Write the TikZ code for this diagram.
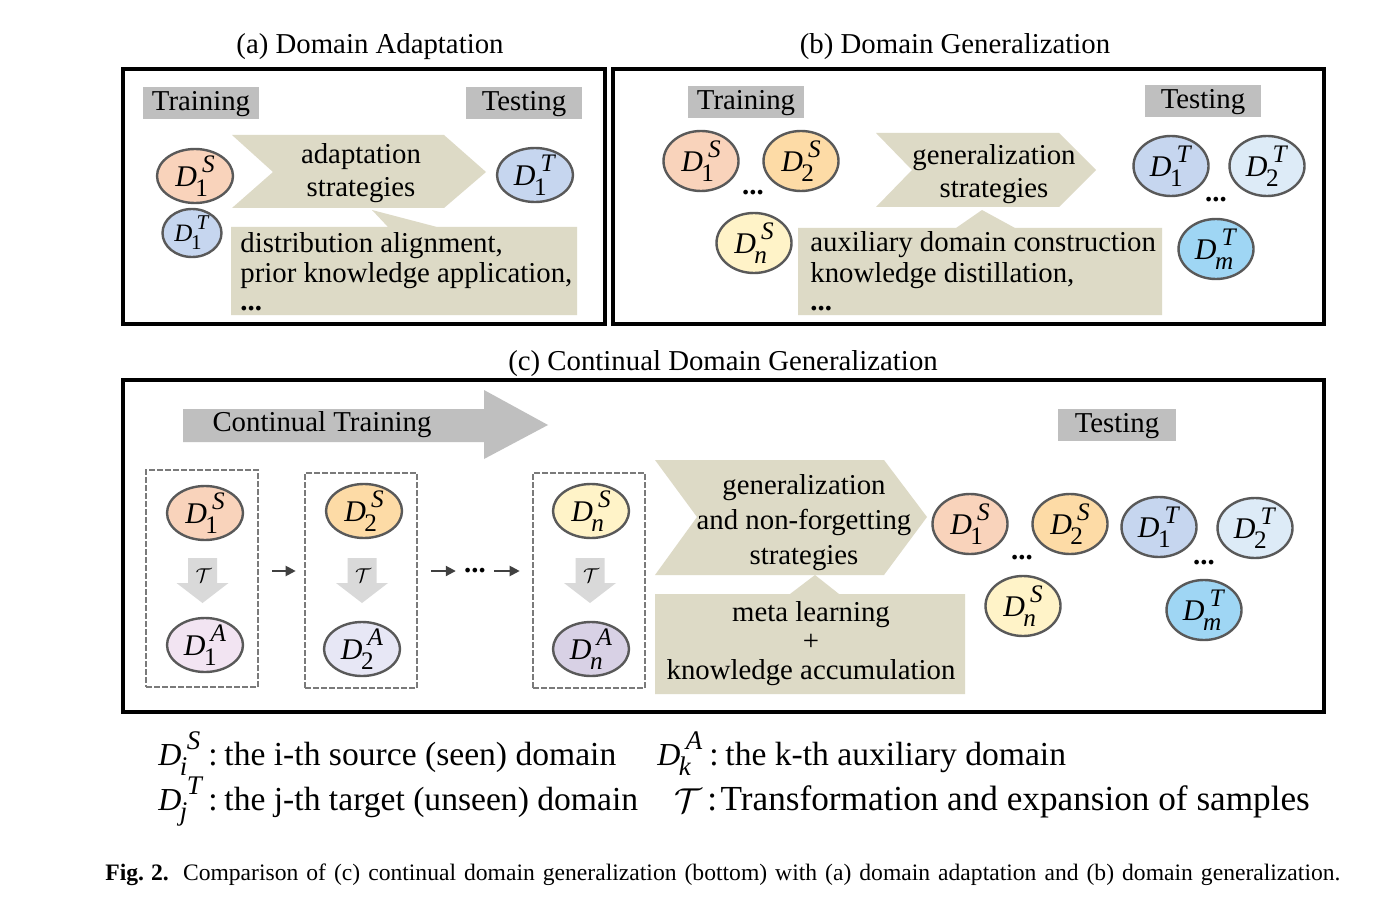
\RequirePackage{fix-cm}
\documentclass[tikz,border=0pt]{standalone}
\usepackage{fontspec}
\setmainfont{Liberation Serif}
\usepackage{graphicx}
\usetikzlibrary{shapes.geometric,arrows.meta}
\definecolor{lblgray}{HTML}{BFBFBF}
\definecolor{tanbg}{HTML}{DDDAC6}
\definecolor{circ}{HTML}{595959}
\definecolor{dashg}{HTML}{7A7A7A}
\definecolor{arrg}{HTML}{D9D9D9}
\definecolor{darkarr}{HTML}{404040}
\definecolor{cSa}{HTML}{F9D3BB}
\definecolor{cSb}{HTML}{FDDBA6}
\definecolor{cSn}{HTML}{FFF3C8}
\definecolor{cTa}{HTML}{C6D6EF}
\definecolor{cTb}{HTML}{DDEBF7}
\definecolor{cTm}{HTML}{9FD6F4}
\definecolor{cAa}{HTML}{F2E4F2}
\definecolor{cAb}{HTML}{E7E7F5}
\definecolor{cAn}{HTML}{D8D1E5}
\newcommand\mainsz{\fontsize{14.4}{16.5}\selectfont}
\newcommand\Dsym[2]{\textit{D}\ooalign{\raisebox{0.47em}{\kern0.17em\scalebox{0.84}{\textit{#1}}}\cr\raisebox{-0.34em}{\kern-0.05em\scalebox{0.84}{#2}}\cr}}
\begin{document}
\begin{tikzpicture}[x=0.5pt,y=-0.5pt,
  panel/.style={draw=black,line width=1.7pt},
  lbl/.style={fill=lblgray,minimum width=58pt,minimum height=16pt,inner sep=0pt,font=\mainsz,text height=10pt,text depth=3pt},
  txt/.style={font=\mainsz,inner sep=0pt},
  dom/.style={ellipse,draw=circ,line width=1.2pt,inner sep=-4pt,font=\fontsize{15}{15}\selectfont},
  domA/.style={dom,minimum width=38pt,minimum height=27pt},
  domB/.style={dom,minimum width=37.5pt,minimum height=30pt},
  dbox/.style={draw=dashg,line width=1.3pt,dash pattern=on 3pt off 1pt,minimum width=56pt,inner sep=0pt},
  sarr/.style={draw=darkarr,line width=1pt,-{Triangle[length=5pt,width=5pt]}},
  bigdots/.style={font=\mainsz\bfseries,inner sep=0pt},
  legt/.style={font=\fontsize{16.8}{20}\selectfont,inner sep=0pt,anchor=base west},
  legd/.style={font=\fontsize{16}{18}\selectfont,inner sep=0pt,anchor=base west}
]
\useasboundingbox (0,0) rectangle (1375,909);
\fill[white] (0,0) rectangle (1375,909);

% ---------- titles
\node[txt,anchor=base] (ta) at (370,54) {(a) Domain Adaptation};
\node[txt,anchor=base] (tb) at (955,54) {(b) Domain Generalization};
\node[txt,anchor=base] (tc) at (723,370) {(c) Continual Domain Generalization};

% ---------- panel (a)
\draw[panel] (123,69) rectangle (605,324);
\node[lbl] (atrain) at (201,103.5) {Training};
\node[lbl] (atest) at (524,103.5) {Testing};
\fill[tanbg] (232,135) -- (444,135) -- (486,172) -- (444,208) -- (232,208) -- (273,172) -- cycle;
\node[txt,align=center] (astrat) at (361,173) {adaptation\\strategies};
\fill[tanbg] (231,227) -- (388,227) -- (372,210) -- (437,227) -- (577,227) -- (577,315) -- (231,315) -- cycle;
\node[txt,anchor=base west] (al1) at (240,252) {distribution alignment,};
\node[txt,anchor=base west] (al2) at (240,283) {prior knowledge application,};
\node[txt,anchor=base west] (al3) at (240,310) {\textbf{...}};
\node[domA,fill=cSa] (aS1) at (195,176) {\Dsym{S}{1}};
\node[domA,fill=cTa] (aT1) at (535,175) {\Dsym{T}{1}};
\node[dom,fill=cTa,minimum width=29.5pt,minimum height=24pt,font=\fontsize{12.5}{13}\selectfont] (aT1s) at (192,233) {\Dsym{T}{1}};

% ---------- panel (b)
\draw[panel] (613,69) rectangle (1324,324);
\node[lbl] (btrain) at (746,102.5) {Training};
\node[lbl] (btest) at (1203,101.5) {Testing};
\fill[tanbg] (876,133) -- (1059,133) -- (1096,170) -- (1059,207) -- (876,207) -- (912,170) -- cycle;
\node[txt,align=center] (bstrat) at (994,174) {generalization\\strategies};
\fill[tanbg] (798,228) -- (956,228) -- (982,210) -- (1015,228) -- (1162,228) -- (1162,315) -- (798,315) -- cycle;
\node[txt,anchor=base west] (bl1) at (810,251) {auxiliary domain construction};
\node[txt,anchor=base west] (bl2) at (810,282) {knowledge distillation,};
\node[txt,anchor=base west] (bl3) at (810,310) {\textbf{...}};
\node[domB,fill=cSa] (bS1) at (701,161) {\Dsym{S}{1}};
\node[domB,fill=cSb] (bS2) at (801,161) {\Dsym{S}{2}};
\node[bigdots] (bdS) at (753,193) {...};
\node[domB,fill=cSn] (bSn) at (754,243) {\Dsym{S}{\textit{n}}};
\node[domB,fill=cTa] (bT1) at (1171,166) {\Dsym{T}{1}};
\node[domB,fill=cTb] (bT2) at (1267,166) {\Dsym{T}{2}};
\node[bigdots] (bdT) at (1216,200) {...};
\node[domB,fill=cTm] (bTm) at (1216,249) {\Dsym{T}{\textit{m}}};

% ---------- panel (c)
\draw[panel] (123,380) rectangle (1324,712);
\fill[lblgray] (183,409) -- (484,409) -- (484,390) -- (548,425) -- (484,459) -- (484,442) -- (183,442) -- cycle;
\node[txt] (ctrain) at (322,425) {Continual Training};
\node[lbl,minimum width=59pt] (ctest) at (1117,425) {Testing};

\node[dbox,minimum height=108.5pt] (box1) at (202,578.5) {};
\node[dbox,minimum height=107.5pt] (box2) at (361,580.5) {};
\node[dbox,minimum height=107.5pt] (box3) at (589,580.5) {};

\foreach \cx/\nm in {202.5/t1,362/t2,590/t3}{
  \fill[arrg] (\cx-14.5,558) -- (\cx+14.5,558) -- (\cx+14.5,583) -- (\cx+26,583) -- (\cx,603) -- (\cx-26,583) -- (\cx-14.5,583) -- cycle;
  \node[inner sep=0pt,font=\fontsize{10}{12}\selectfont] (\nm) at (\cx+1,576) {$\mathcal{T}$};
}
\node[domA,fill=cSa] (cS1) at (205,513) {\Dsym{S}{1}};
\node[domA,fill=cAa] (cA1) at (205,645) {\Dsym{A}{1}};
\node[domA,fill=cSb] (cS2) at (364,511) {\Dsym{S}{2}};
\node[domA,fill=cAb] (cA2) at (362,649) {\Dsym{A}{2}};
\node[domA,fill=cSn] (cSn) at (591,511) {\Dsym{S}{\textit{n}}};
\node[domA,fill=cAn] (cAn) at (591,649) {\Dsym{A}{\textit{n}}};

\node[bigdots] (cdots) at (475,571) {...};
\draw[sarr] ([xshift=6.5pt]box1.east |- cdots.center) -- ([xshift=-4pt]box2.west |- cdots.center);
\draw[sarr] ([xshift=6.5pt]box2.east |- cdots.center) -- ([xshift=-4pt]cdots.west);
\draw[sarr] ([xshift=4pt]cdots.east) -- ([xshift=-6pt]box3.west |- cdots.center);

\fill[tanbg] (655,460) -- (884,460) -- (927,517) -- (884,575) -- (655,575) -- (697,517) -- cycle;
\node[txt,align=center,font=\fontsize{14.4}{17.5}\selectfont] (cstrat) at (804,523) {generalization\\and non-forgetting\\strategies};
\fill[tanbg] (655,594) -- (790,594) -- (815,575) -- (839,594) -- (965,594) -- (965,694) -- (655,694) -- cycle;
\node[txt,align=center,font=\fontsize{14.4}{14.5}\selectfont] (cmeta) at (811,644) {meta learning\\+\\knowledge accumulation};

\node[domB,fill=cSa] (rS1) at (970,524) {\Dsym{S}{1}};
\node[domB,fill=cSb] (rS2) at (1070,524) {\Dsym{S}{2}};
\node[domB,fill=cTa] (rT1) at (1159,527) {\Dsym{T}{1}};
\node[domB,fill=cTb] (rT2) at (1255,528) {\Dsym{T}{2}};
\node[bigdots] (rdS) at (1022,558) {...};
\node[domB,fill=cSn] (rSn) at (1023,606) {\Dsym{S}{\textit{n}}};
\node[bigdots] (rdT) at (1204,563) {...};
\node[domB,fill=cTm] (rTm) at (1204,610) {\Dsym{T}{\textit{m}}};

% ---------- legend
\node[legd] (lgS) at (158,765) {\Dsym{S}{\textit{i}}};
\node[legt] (lgSt) at (208,765) {:\kern0.2em the i-th source (seen) domain};
\node[legd] (lgT) at (158,810) {\Dsym{T}{\textit{j}}};
\node[legt] (lgTt) at (208,810) {:\kern0.2em the j-th target (unseen) domain};
\node[legd] (lgA) at (657,765) {\Dsym{A}{\textit{k}}};
\node[legt] (lgAt) at (709,765) {:\kern0.2em the k-th auxiliary domain};
\node[legt,font=\fontsize{17.28}{20}\selectfont] (lgC) at (674,812) {$\mathcal{T}$};
\node[legt,font=\fontsize{17.6}{20}\selectfont] (lgCt) at (707,810) {:\kern0.1em Transformation and expansion of samples};

% ---------- caption
\node[inner sep=0pt,anchor=base west,font=\fontsize{11.8}{13}\selectfont] (cap) at (105,880)
  {\hbox to 617.5pt{\textbf{Fig.\kern0.3em2.}\kern0.6em Comparison of (c) continual domain generalization (bottom) with (a) domain adaptation and (b) domain generalization.}};
\end{tikzpicture}
\end{document}
